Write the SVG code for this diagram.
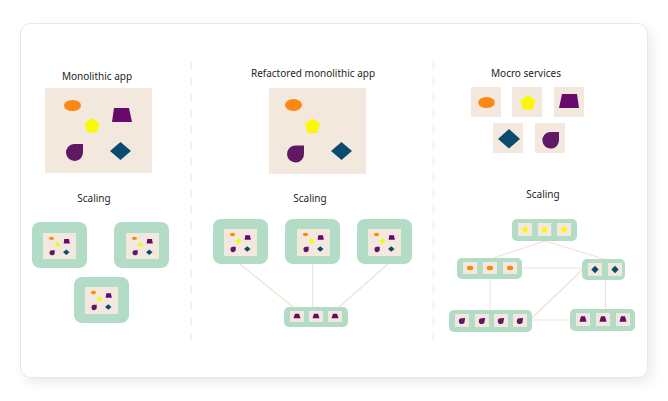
<svg xmlns="http://www.w3.org/2000/svg" xmlns:xlink="http://www.w3.org/1999/xlink" width="668" height="401" viewBox="0 0 668 401">
<style>
.t{font-family:"Noto Sans","Liberation Sans",sans-serif;font-size:10px;fill:#1e1e1e;text-anchor:middle}
.bg{fill:#f2e8de}
.g{fill:#b2dcc6}
.or{fill:#fc8712}
.ye{fill:#f9f900}
.pu{fill:#680a6c}
.te{fill:#5e1864}
.bl{fill:#0a4b70}
.ln{stroke:#f1e2d3;stroke-width:1.2;fill:none}
.dv{stroke:#f3efeb;stroke-width:2;stroke-dasharray:8 8;fill:none}
</style>
<defs>
<filter id="sh" x="-5%" y="-5%" width="112%" height="115%">
<feDropShadow dx="4" dy="5" stdDeviation="6" flood-color="#000" flood-opacity="0.08"/>
</filter>
<symbol id="mono" viewBox="0 0 107 85" preserveAspectRatio="none">
<rect class="bg" x="0" y="0" width="107" height="85"/>
<ellipse class="or" cx="27.5" cy="17.5" rx="8.5" ry="5.5"/>
<polygon class="pu" points="69,20 84,20 87,34 67,34"/>
<polygon class="ye" points="47,30 54.6,35.5 51.7,44.5 42.3,44.5 39.4,35.5"/>
<path class="te" d="M29,56 L38,56 L38,64 A8.5,8.5 0 1 1 29,56 Z"/>
<polygon class="bl" points="65,63 75.5,54 86,63 75.5,72"/>
</symbol>
<symbol id="tY" viewBox="0 0 14 12" preserveAspectRatio="none">
<rect class="bg" width="14" height="12"/>
<polygon class="ye" points="7,3.3 9.8,5.3 8.7,8.5 5.3,8.5 4.2,5.3"/>
</symbol>
<symbol id="tO" viewBox="0 0 14 12" preserveAspectRatio="none">
<rect class="bg" width="14" height="12"/>
<ellipse class="or" cx="7" cy="6" rx="3.2" ry="2.2"/>
</symbol>
<symbol id="tB" viewBox="0 0 14 12" preserveAspectRatio="none">
<rect class="bg" width="14" height="12"/>
<polygon class="bl" points="3.3,6 7,2.6 10.7,6 7,9.4"/>
</symbol>
<symbol id="tT" viewBox="0 0 14 12" preserveAspectRatio="none">
<rect class="bg" width="14" height="12"/>
<path class="te" d="M6.8,4 L10.2,3.6 L9.6,6.4 A2.9,2.6 0 1 1 6.8,4 Z"/>
</symbol>
<symbol id="tP" viewBox="0 0 14 12" preserveAspectRatio="none">
<rect class="bg" width="14" height="12"/>
<polygon class="pu" points="5,3 9,3 10.5,8 3.5,8"/>
</symbol>
</defs>

<rect x="20.5" y="23.5" width="627" height="354" rx="10" fill="#fff" stroke="#f2e5d8" stroke-width="1" filter="url(#sh)"/>

<g id="dividers">
<line class="dv" x1="191" y1="61" x2="191" y2="340"/>
<line class="dv" x1="433.5" y1="61" x2="433.5" y2="340"/>
</g>

<g id="connectors">
<line class="ln" x1="240" y1="264" x2="293" y2="307"/>
<line class="ln" x1="312.5" y1="264" x2="312.5" y2="307"/>
<line class="ln" x1="388" y1="264" x2="339" y2="307"/>
<line class="ln" x1="545" y1="241" x2="493" y2="258"/>
<line class="ln" x1="545" y1="241" x2="604" y2="259"/>
<line class="ln" x1="522" y1="268" x2="582" y2="268"/>
<line class="ln" x1="490" y1="279" x2="490" y2="310"/>
<line class="ln" x1="605.5" y1="280" x2="605.5" y2="309"/>
<line class="ln" x1="532" y1="318" x2="582" y2="270"/>
<line class="ln" x1="532" y1="320" x2="570" y2="320"/>
</g>

<g id="panel1">
<text class="t" x="97" y="80">Monolithic app</text>
<g id="mono-app"><use xlink:href="#mono" x="45" y="88" width="107" height="85"/></g>
<text class="t" x="94" y="202">Scaling</text>
<g id="p1-node1"><rect class="g" x="32" y="222" width="55" height="46" rx="8"/><use xlink:href="#mono" x="43" y="233" width="33" height="26"/></g>
<g id="p1-node2"><rect class="g" x="114" y="222" width="55" height="46" rx="8"/><use xlink:href="#mono" x="126" y="233" width="33" height="26"/></g>
<g id="p1-node3"><rect class="g" x="74" y="277" width="55" height="46" rx="8"/><use xlink:href="#mono" x="85" y="287" width="33" height="27"/></g>
</g>

<g id="panel2">
<text class="t" x="313" y="77">Refactored monolithic app</text>
<g id="refactored-app">
<rect class="bg" x="269" y="88" width="97" height="86"/>
<ellipse class="or" cx="293.5" cy="105" rx="8.5" ry="6"/>
<polygon class="ye" points="312.5,118.5 320.1,124 317.2,133 307.8,133 304.9,124"/>
<path class="te" d="M295,145.5 L304,145.5 L304,153.5 A8.5,8.5 0 1 1 295,145.5 Z"/>
<polygon class="bl" points="331,151 341.5,142 352,151 341.5,160"/>
</g>
<text class="t" x="310" y="202">Scaling</text>
<g id="p2-node1"><rect class="g" x="213" y="219" width="55" height="45" rx="8"/><use xlink:href="#mono" x="224" y="229" width="33" height="27"/></g>
<g id="p2-node2"><rect class="g" x="285" y="219" width="55" height="45" rx="8"/><use xlink:href="#mono" x="297" y="229" width="33" height="27"/></g>
<g id="p2-node3"><rect class="g" x="357" y="219" width="55" height="45" rx="8"/><use xlink:href="#mono" x="368" y="229" width="33" height="27"/></g>
<g id="p2-node4"><rect class="g" x="284" y="307" width="64" height="20" rx="5"/>
<use xlink:href="#tP" x="290" y="311" width="14" height="11"/>
<use xlink:href="#tP" x="309" y="311" width="14" height="11"/>
<use xlink:href="#tP" x="328" y="311" width="14" height="11"/>
</g>
</g>

<g id="panel3">
<text class="t" x="526" y="77">Mocro services</text>
<g id="ms-orange"><rect class="bg" x="471" y="87" width="30" height="30"/><ellipse class="or" cx="486.5" cy="102.5" rx="8.3" ry="5.5"/></g>
<g id="ms-yellow"><rect class="bg" x="512" y="87" width="30" height="30"/><polygon class="ye" points="528,95 535.6,100.5 532.7,109.5 523.3,109.5 520.4,100.5"/></g>
<g id="ms-purple"><rect class="bg" x="554" y="87" width="30" height="30"/><polygon class="pu" points="562,94 577,94 579,108 559,108"/></g>
<g id="ms-blue"><rect class="bg" x="493" y="123" width="30" height="30"/><polygon class="bl" points="498,139 509,129 520,139 509,148.5"/></g>
<g id="ms-tear"><rect class="bg" x="535" y="123" width="30" height="30"/><path class="te" d="M550,132 L559,132 L559,140 A8.3,8.3 0 1 1 550,132 Z"/></g>
<text class="t" x="543" y="198">Scaling</text>
<g id="p3-yellow"><rect class="g" x="512" y="219" width="65" height="22" rx="5"/>
<use xlink:href="#tY" x="518" y="223" width="14" height="13"/>
<use xlink:href="#tY" x="537.5" y="223" width="14" height="13"/>
<use xlink:href="#tY" x="557" y="223" width="14" height="13"/>
</g>
<g id="p3-orange"><rect class="g" x="457" y="258" width="65" height="21" rx="5"/>
<use xlink:href="#tO" x="463" y="262" width="14" height="12"/>
<use xlink:href="#tO" x="483" y="262" width="14" height="12"/>
<use xlink:href="#tO" x="503" y="262" width="14" height="12"/>
</g>
<g id="p3-blue"><rect class="g" x="582" y="259" width="43" height="21" rx="5"/>
<use xlink:href="#tB" x="588" y="263" width="14" height="13"/>
<use xlink:href="#tB" x="608" y="263" width="14" height="13"/>
</g>
<g id="p3-tear"><rect class="g" x="449" y="310" width="83" height="22" rx="5"/>
<use xlink:href="#tT" x="455" y="314" width="14" height="13"/>
<use xlink:href="#tT" x="475" y="314" width="14" height="13"/>
<use xlink:href="#tT" x="494" y="314" width="14" height="13"/>
<use xlink:href="#tT" x="513" y="314" width="14" height="13"/>
</g>
<g id="p3-trap"><rect class="g" x="570" y="309" width="65" height="22" rx="5"/>
<use xlink:href="#tP" x="576" y="313" width="14" height="13"/>
<use xlink:href="#tP" x="596" y="313" width="14" height="13"/>
<use xlink:href="#tP" x="616" y="313" width="14" height="13"/>
</g>
</g>
</svg>
